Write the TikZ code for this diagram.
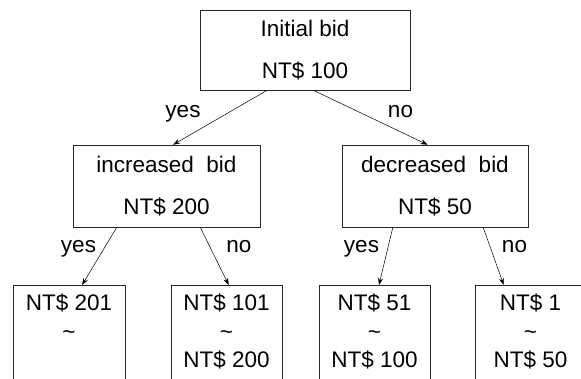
\documentclass[tikz,border=0pt]{standalone}
\usepackage{fontspec}
\setmainfont{Liberation Sans}
\usetikzlibrary{calc,arrows.meta}

\begin{document}
\begin{tikzpicture}[x=1pt, y=-1pt, >={Stealth[length=7pt,width=5pt]},
    bidbox/.style={draw=black!85, line width=0.6pt, align=center, inner sep=0pt,
      font=\fontsize{22.5}{42}\selectfont},
    rangebox/.style={draw=black!85, line width=0.6pt, align=center, anchor=north,
      inner xsep=0pt, inner ysep=9pt, text depth=60pt, minimum width=111pt,
      font=\fontsize{22.5}{28.5}\selectfont},
    answer/.style={anchor=base, inner sep=0pt, font=\fontsize{22.5}{27}\selectfont}]
        \clip (0,0) rectangle (581,379);
        \node[bidbox, minimum width=210pt, minimum height=80pt] (ini) at (305,50) {Initial bid\\NT\$ 100};
        \node[bidbox, minimum width=187pt, minimum height=82pt] (inc) at (166.5,186) {increased\ \ bid\\NT\$ 200};
        \node[bidbox, minimum width=186pt, minimum height=82pt] (dec) at (435,186) {decreased\ \ bid\\NT\$ 50};
        \node[rangebox, minimum width=112pt] (r1) at (69,285) {NT\$ 201\\\textasciitilde};
        \node[rangebox] (r2) at (226.5,285) {NT\$ 101\\\textasciitilde\\NT\$ 200};
        \node[rangebox] (r3) at (374.5,285) {NT\$ 51\\\textasciitilde\\NT\$ 100};
        \node[rangebox] (r4) at (530.5,285) {NT\$ 1\\\textasciitilde\\NT\$ 50};
        % answers
        \node[answer] (y1) at (183,118) {yes};
        \node[answer] (n1) at (400.5,118) {no};
        \node[answer] (y2) at (78.5,253) {yes};
        \node[answer] (n2) at (239,253) {no};
        \node[answer] (y3) at (361.5,253) {yes};
        \node[answer] (n3) at (514.5,253) {no};
        % arrows
        \draw[->, line width=0.5pt] ($(ini.south west)!.32!(ini.south east)$) -- ($(inc.north west)!.535!(inc.north east)$);
        \draw[->, line width=0.5pt] ($(ini.south west)!.54!(ini.south east)$) -- ($(dec.north west)!.46!(dec.north east)$);
        \draw[->, line width=0.5pt] ($(inc.south west)!.235!(inc.south east)$) -- ($(r1.north west)!.616!(r1.north east)$);
        \draw[->, line width=0.5pt] ($(inc.south west)!.68!(inc.south east)$) -- ($(r2.north west)!.52!(r2.north east)$);
        \draw[->, line width=0.5pt] ($(dec.south west)!.274!(dec.south east)$) -- ($(r3.north west)!.54!(r3.north east)$);
        \draw[->, line width=0.5pt] ($(dec.south west)!.758!(dec.south east)$) -- ($(r4.north west)!.26!(r4.north east)$);
    \end{tikzpicture}
\end{document}
